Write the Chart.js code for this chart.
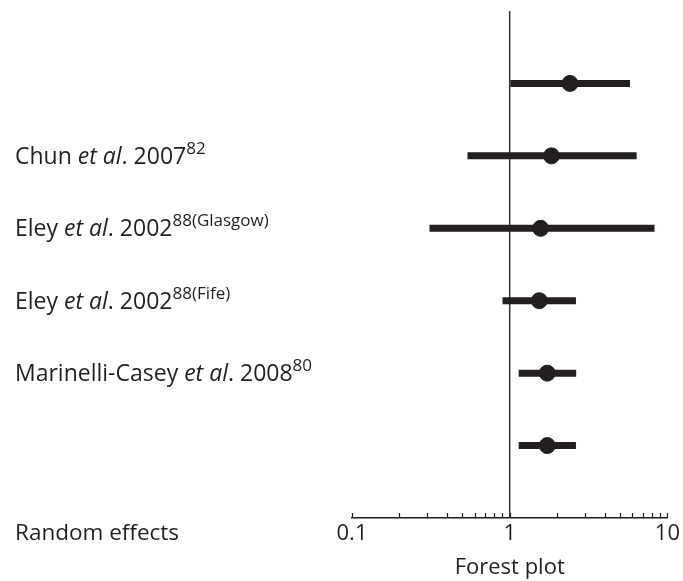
<!DOCTYPE html>
<html>
<head>
<meta charset="utf-8">
<script src="https://cdn.jsdelivr.net/npm/chart.js@4"></script>
<style>
  html, body { margin: 0; padding: 0; background: #fff; }
  #wrap { width: 683px; height: 581px; }
</style>
</head>
<body>
<div id="wrap"><canvas id="chart1"></canvas></div>
<script>
// one row per study, counted from the top
const rows = [1, 2, 3, 4, 5, 6];
const estimates = [2.41, 1.84, 1.57, 1.54, 1.73, 1.73];
const lower = [1.01, 0.54, 0.31, 0.90, 1.14, 1.14];
const upper = [5.79, 6.38, 8.28, 2.63, 2.64, 2.63];

// label pieces: [text, style] where style is "", "italic" or "sup"
const rowLabels = [
  [],
  [["Chun ", ""], ["et al", "italic"], [". 2007", ""], ["82", "sup"]],
  [["Eley ", ""], ["et al", "italic"], [". 2002", ""], ["88(Glasgow)", "sup"]],
  [["Eley ", ""], ["et al", "italic"], [". 2002", ""], ["88(Fife)", "sup"]],
  [["Marinelli-Casey ", ""], ["et al", "italic"], [". 2008", ""], ["80", "sup"]],
  []
];
const footLabel = "Random effects";

const tickValues = [0.1, 0.2, 0.3, 0.4, 0.5, 0.6, 0.7, 0.8, 0.9, 1,
                    2, 3, 4, 5, 6, 7, 8, 9, 10];
const tickLabels = { 0.1: "0.1", 1: "1", 10: "10" };
const refValue = 1;

const ink = "#231f20";
const fontFamily = "'Open Sans', 'Noto Sans', sans-serif";

const datasets = [];
rows.forEach((r, i) => {
  datasets.push({
    type: "line",
    data: [{ x: lower[i], y: r }, { x: upper[i], y: r }],
    borderColor: ink,
    borderWidth: 7,
    borderCapStyle: "butt",
    pointRadius: 0,
  });
});
datasets.push({
  type: "line",
  data: [{ x: refValue, y: 0 }, { x: refValue, y: 7 }],
  borderColor: "#333",
  borderWidth: 1.5,
  pointRadius: 0,
});
datasets.push({
  type: "scatter",
  data: rows.map((r, i) => ({ x: estimates[i], y: r })),
  backgroundColor: ink,
  borderColor: ink,
  pointRadius: 8,
});

Chart.register({
  id: "forestText",
  afterDraw: function (chart) {
    const ctx = chart.ctx;
    const xs = chart.scales.x;
    const ys = chart.scales.y;
    ctx.save();
    ctx.fillStyle = ink;
    ctx.strokeStyle = ink;
    // tick marks pointing up from the axis
    ctx.lineWidth = 1.2;
    xs.ticks.forEach(t => {
      const px = Math.round(xs.getPixelForValue(t.value)) + 0.5;
      ctx.beginPath();
      ctx.moveTo(px, xs.top);
      ctx.lineTo(px, xs.top - 5);
      ctx.stroke();
    });
    // study labels
    ctx.textBaseline = "alphabetic";
    rowLabels.forEach((parts, i) => {
      if (!parts.length) return;
      const y = ys.getPixelForValue(rows[i]) + 8;
      let x = 15;
      parts.forEach(([txt, st]) => {
        if (st === "sup") {
          ctx.font = "17px " + fontFamily;
          ctx.fillText(txt, x, y - 10);
        } else {
          ctx.font = (st === "italic" ? "italic " : "") + "23px " + fontFamily;
          ctx.fillText(txt, x, y);
        }
        x += ctx.measureText(txt).width;
      });
    });
    ctx.font = "22.5px " + fontFamily;
    ctx.textBaseline = "middle";
    ctx.fillText(footLabel, 15, xs.top + 16);
    ctx.restore();
  },
});

new Chart(document.getElementById("chart1"), {
  data: { datasets: datasets },
  options: {
    responsive: true,
    maintainAspectRatio: false,
    animation: false,
    layout: { padding: { left: 352, right: 13, top: 11, bottom: 0 } },
    plugins: { legend: { display: false }, tooltip: { enabled: false } },
    scales: {
      x: {
        type: "logarithmic",
        min: 0.1,
        max: 10,
        afterBuildTicks: s => { s.ticks = tickValues.map(v => ({ value: v })); },
        afterFit: s => { s.height = 63; },
        grid: { display: true, drawOnChartArea: false, drawTicks: false },
        border: { display: true, color: ink, width: 1.5 },
        ticks: {
          autoSkip: false,
          maxRotation: 0,
          padding: 3,
          color: ink,
          font: { family: fontFamily, size: 22 },
          callback: v => tickLabels[v] || "",
        },
        title: {
          display: true,
          text: "Forest plot",
          color: ink,
          font: { family: fontFamily, size: 22 },
          padding: { top: 0, bottom: 0 },
        },
      },
      y: {
        type: "linear",
        display: false,
        reverse: true,
        min: 0,
        max: 7,
      },
    },
  },
});
</script>
</body>
</html>
